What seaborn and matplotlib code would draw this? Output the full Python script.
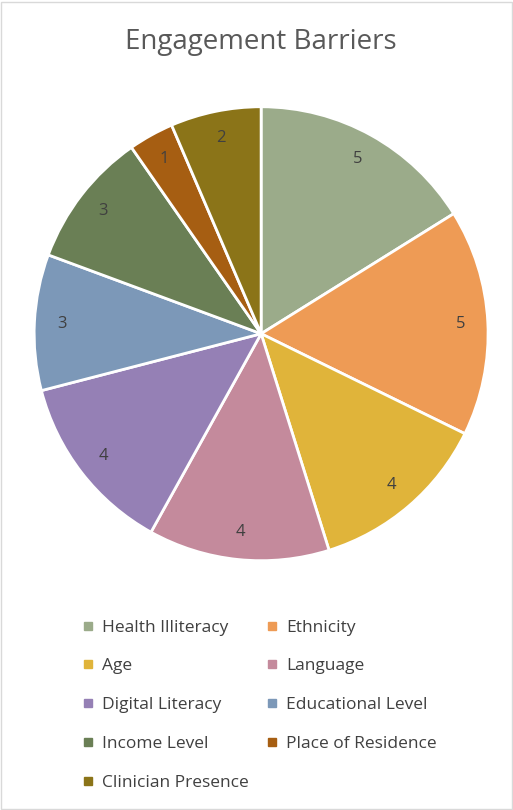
import matplotlib
matplotlib.use("Agg")
import matplotlib.pyplot as plt
import seaborn as sns
from matplotlib.patches import Rectangle
from matplotlib.lines import Line2D

categories = ["Health Illiteracy", "Ethnicity", "Age", "Language", "Digital Literacy",
              "Educational Level", "Income Level", "Place of Residence", "Clinician Presence"]
values = [5, 5, 4, 4, 4, 3, 3, 1, 2]
colors = ["#9BAB8A", "#EE9B55", "#E0B43A", "#C48A9C", "#9580B5",
          "#7C98B8", "#6A7F55", "#A65E12", "#8B7418"]
title = "Engagement Barriers"

sns.set_theme(style="white")
plt.rcParams['font.family'] = ['Open Sans', 'DejaVu Sans']

fig = plt.figure(figsize=(5.13, 8.10), dpi=100)
fig.patch.set_facecolor("white")
fig.add_artist(Rectangle((0.001, 0.001), 0.997, 0.997, transform=fig.transFigure,
                         fill=False, edgecolor="#D9D9D9", linewidth=1))

ax = fig.add_axes([0.509 - 0.4425, 0.588 - 0.2802, 0.885, 0.5604])
wedges, texts = ax.pie(values, colors=colors, startangle=90, counterclock=False,
                       labels=[str(v) for v in values], labeldistance=0.88,
                       wedgeprops=dict(edgecolor="white", linewidth=2),
                       textprops=dict(color="#404040", fontsize=12))
for t in texts:
    t.set_horizontalalignment("center")
    t.set_verticalalignment("center")
ax.set_xlim(-1, 1)
ax.set_ylim(-1, 1)
ax.set_aspect("equal")

fig.text(0.509, 1 - 42 / 810, title, ha="center", va="center", fontsize=20, color="#595959")

order = [0, 2, 4, 6, 8, 1, 3, 5, 7]
handles = [Line2D([], [], marker="s", linestyle="none", markersize=6,
                  markerfacecolor=colors[i], markeredgecolor=colors[i]) for i in order]
labels = [categories[i] for i in order]
leg = fig.legend(handles, labels, ncol=2, loc="upper left",
                 bbox_to_anchor=(0.13, 1 - 604 / 810), frameon=False,
                 fontsize=12.5, labelspacing=1.3, columnspacing=1.0,
                 handlelength=0.7, handletextpad=0.45, labelcolor="#404040")

fig.savefig("out.png", dpi=100)
